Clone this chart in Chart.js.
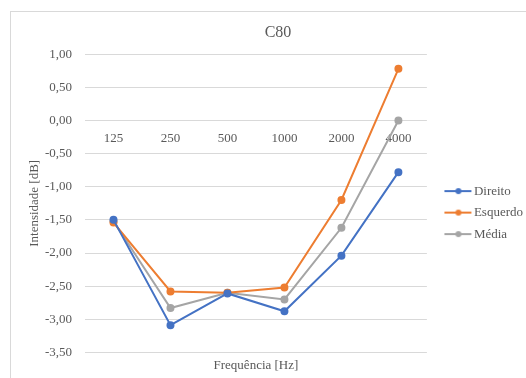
<!DOCTYPE html>
<html>
<head>
<meta charset="utf-8">
<script src="https://cdn.jsdelivr.net/npm/chart.js@4.4.1/dist/chart.umd.min.js"></script>
<style>
  html, body { margin: 0; padding: 0; background: #fff; overflow: hidden; }
  #frame {
    position: absolute; left: 10px; top: 11px;
    width: 530px; height: 380px;
    border: 1px solid #D9D9D9;
  }
</style>
</head>
<body>
<div id="frame"><canvas id="c80Chart"></canvas></div>
<script>
// C80 per frequency band
const bands = ['125', '250', '500', '1000', '2000', '4000'];
const direito = [-1.50, -3.09, -2.61, -2.88, -2.04, -0.78];
const esquerdo = [-1.54, -2.58, -2.60, -2.52, -1.20, 0.78];
const media = [-1.52, -2.83, -2.60, -2.70, -1.62, 0.00];

const colors = ['#4472C4', '#ED7D31', '#A5A5A5'];
const grey = '#595959';
const serif = "'Liberation Serif', 'Times New Roman', serif";

// legend icon: short line with a dot, drawn on the right part of a wider canvas
function lineIcon(color) {
  const c = document.createElement('canvas');
  c.width = 44; c.height = 8;
  const g = c.getContext('2d');
  g.strokeStyle = color;
  g.lineWidth = 2;
  g.beginPath(); g.moveTo(15, 4); g.lineTo(42, 4); g.stroke();
  g.fillStyle = color;
  g.beginPath(); g.arc(29, 4, 3, 0, Math.PI * 2); g.fill();
  return c;
}
const icons = colors.map(lineIcon);

function series(label, data, color) {
  return {
    label, data,
    borderColor: color, backgroundColor: color,
    borderWidth: 2, pointRadius: 3, pointHoverRadius: 3,
    tension: 0
  };
}

new Chart(document.getElementById('c80Chart'), {
  type: 'line',
  data: {
    labels: bands,
    datasets: [
      series('Direito', direito, colors[0]),
      series('Esquerdo', esquerdo, colors[1]),
      series('Média', media, colors[2])
    ]
  },
  options: {
    responsive: true,
    maintainAspectRatio: false,
    animation: false,
    layout: { padding: { left: 12, right: 8, top: 0, bottom: 0 } },
    plugins: {
      title: {
        display: true, text: 'C80', color: grey,
        font: { family: serif, size: 16, weight: 'normal' },
        padding: { top: 11, bottom: 12 }
      },
      legend: {
        position: 'right',
        // empty title just pushes the items down a little
        title: { display: true, text: '', padding: { top: 4, bottom: 4 }, font: { size: 11 } },
        labels: {
          color: grey,
          font: { family: serif, size: 13 },
          usePointStyle: true,
          pointStyleWidth: 32,
          padding: 8.5,
          generateLabels(chart) {
            const items = Chart.defaults.plugins.legend.labels.generateLabels(chart);
            items.forEach((it, i) => { it.pointStyle = icons[i]; });
            return items;
          }
        }
      },
      tooltip: { enabled: false }
    },
    scales: {
      x: {
        offset: true,
        position: { y: 0 },
        grid: { display: false },
        border: { display: false },
        ticks: { color: grey, font: { family: serif, size: 13 }, padding: 2 }
      },
      // bottom axis that only carries the title under the plot
      xTitle: {
        type: 'category',
        axis: 'x',
        position: 'bottom',
        grid: { display: false, drawTicks: false },
        border: { display: false },
        ticks: { display: false },
        title: {
          display: true, text: 'Frequência [Hz]', color: grey,
          font: { family: serif, size: 13 },
          padding: { top: 5, bottom: 19 }
        }
      },
      y: {
        min: -3.5, max: 1.0,
        afterFit: s => { s.width = 62; },
        ticks: {
          stepSize: 0.5, color: grey, padding: 13,
          font: { family: serif, size: 13 },
          callback: v => v.toFixed(2).replace('.', ',')
        },
        grid: { color: '#D9D9D9', drawTicks: false },
        border: { display: false },
        title: {
          display: true, text: 'Intensidade [dB]', color: grey,
          font: { family: serif, size: 13 },
          padding: { top: 4, bottom: 2 }
        }
      }
    }
  }
});
</script>
</body>
</html>
